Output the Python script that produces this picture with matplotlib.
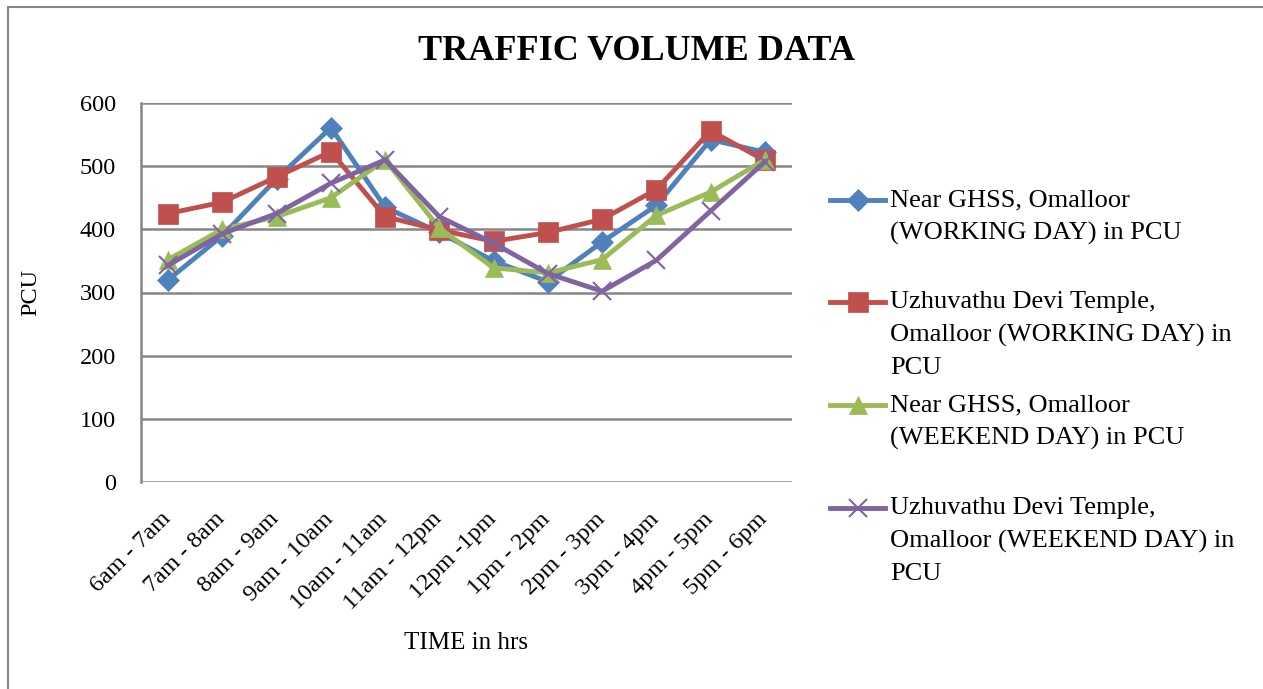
import matplotlib.pyplot as plt
from matplotlib.lines import Line2D
from matplotlib.patches import Rectangle
from matplotlib.transforms import ScaledTranslation

plt.rcParams['font.family'] = ['Liberation Serif', 'DejaVu Serif']

times = ["6am - 7am", "7am - 8am", "8am - 9am", "9am - 10am", "10am - 11am", "11am - 12pm",
         "12pm -1pm", "1pm - 2pm", "2pm - 3pm", "3pm - 4pm", "4pm - 5pm", "5pm - 6pm"]

ghss_working = [320, 390, 480, 561, 435, 395, 350, 317, 380, 438, 542, 522]
temple_working = [425, 443, 483, 523, 420, 399, 381, 395, 416, 463, 556, 509]
ghss_weekend = [352, 400, 420, 450, 510, 402, 339, 331, 352, 422, 459, 510]
temple_weekend = [343, 393, 425, 473, 510, 420, 378, 330, 302, 351, 429, 507]

labels = ["Near GHSS, Omalloor\n(WORKING DAY) in PCU",
          "Uzhuvathu Devi Temple,\nOmalloor (WORKING DAY) in\nPCU",
          "Near GHSS, Omalloor\n(WEEKEND DAY) in PCU",
          "Uzhuvathu Devi Temple,\nOmalloor (WEEKEND DAY) in\nPCU"]
colors = ["#4F81BD", "#C0504D", "#9BBB59", "#8064A2"]
markers = ["D", "s", "^", "x"]
msizes = [11, 14, 13, 13]

fig = plt.figure(figsize=(12.63, 6.89), dpi=100)
fig.add_artist(Rectangle((8/1263, -0.1), 1.2, 1.1 - 7/689, transform=fig.transFigure,
                         fill=False, edgecolor="#868686", linewidth=1.5))

ax = fig.add_axes([141/1263, 1 - 482/689, 651/1263, 379/689])
x = list(range(len(times)))
series = [ghss_working, temple_working, ghss_weekend, temple_weekend]
for i, s in enumerate(series):
    ax.plot(x, s, color=colors[i], marker=markers[i], markersize=msizes[i],
            linewidth=3.5, markeredgewidth=1.5 if markers[i] == "x" else 0.5,
            markeredgecolor=colors[i], zorder=3 + i)

ax.set_xlim(-0.5, len(times) - 0.5)
ax.set_ylim(0, 600)
ax.set_yticks(range(0, 601, 100))
ax.grid(axis="y", color="#868686", linewidth=1.8)
ax.set_axisbelow(True)
for side in ["top", "right", "bottom"]:
    ax.spines[side].set_visible(False)
ax.spines["left"].set_color("#868686")
ax.spines["left"].set_linewidth(1.8)
ax.tick_params(axis="both", length=0, labelsize=17.5)
ax.tick_params(axis="y", pad=18)
ax.set_xticks(x)
ax.set_xticklabels(times, rotation=45, ha="right", rotation_mode="anchor")
ax.tick_params(axis="x", pad=19)
shift = ScaledTranslation(-8/100, 0, fig.dpi_scale_trans)
for lbl in ax.get_xticklabels():
    lbl.set_transform(lbl.get_transform() + shift)

ax.set_ylabel("PCU", fontsize=17.5, labelpad=28)
fig.text(466/1263, 1 - 643/689, "TIME in hrs", fontsize=18, ha="center", va="center")
fig.text(636/1263, 1 - 52/689, "TRAFFIC VOLUME DATA", fontsize=26, fontweight="bold",
         ha="center", va="center")

# legend drawn by hand
entry_y = [200, 302, 405, 508]
for i in range(4):
    yy = 1 - entry_y[i] / 689
    fig.add_artist(Line2D([830/1263, 885/1263], [yy, yy], color=colors[i], linewidth=3.5,
                          transform=fig.transFigure))
    fig.add_artist(Line2D([857.5/1263], [yy], color=colors[i], marker=markers[i],
                          markersize=msizes[i], markeredgewidth=1.5 if markers[i] == "x" else 0.5,
                          markeredgecolor=colors[i], transform=fig.transFigure))
    fig.text(890/1263, yy + 11/689, labels[i], fontsize=19, ha="left", va="top",
             linespacing=1.6)

fig.savefig("out.png", dpi=100)
